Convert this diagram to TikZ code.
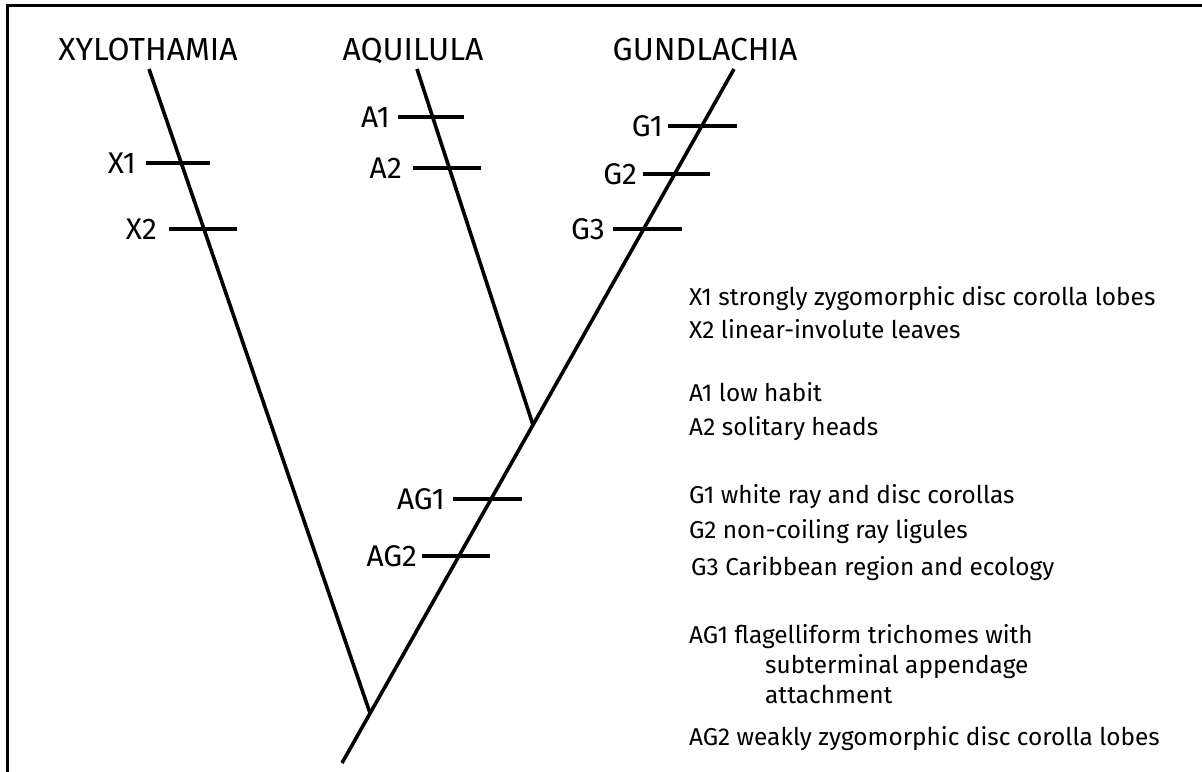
\documentclass[tikz,border=0pt]{standalone}
\usepackage{fontspec}
\setmainfont{Fira Sans}
\begin{document}
\begin{tikzpicture}[x=1bp,y=-1bp,
  branch/.style={line width=3.6bp},
  bar/.style={line width=4.2bp},
  frame/.style={line width=3bp},
  taxon/.style={font=\fontsize{32}{36}\selectfont, anchor=base, inner sep=0pt},
  lab/.style={font=\fontsize{30}{34}\selectfont, anchor=east, inner sep=1bp},
  legend/.style={font=\fontsize{24.5}{28}\selectfont, anchor=base west, inner sep=0pt}]
\useasboundingbox (0,0) rectangle (1202,772);
\fill[white] (0,0) rectangle (1202,772);
% frame
\coordinate (f1) at (1202,6);
\coordinate (f2) at (7,6);
\coordinate (f3) at (7,772);
\draw[frame] (f1) -- (f2) -- (f3);
% taxa
\node[taxon] (tX) at (148,61) {XYLOTHAMIA};
\node[taxon] (tA) at (413,61) {AQUILULA};
\node[taxon] (tG) at (705,61) {GUNDLACHIA};
% tree points
\coordinate (xt) at (149,69);
\coordinate (at) at (417,69);
\coordinate (gt) at (734,69);
\coordinate (agj) at (533,425);
\coordinate (root) at (370,713);
\coordinate (base) at (342,763);
\draw[branch] (xt) -- (root);
\draw[branch] (at) -- (agj);
\draw[branch] (base) -- (gt);
% bars
\coordinate (x1a) at (146,163); \coordinate (x1b) at (210,163);
\coordinate (x2a) at (169,229); \coordinate (x2b) at (237,229);
\coordinate (a1a) at (398,117); \coordinate (a1b) at (464,117);
\coordinate (a2a) at (413,168); \coordinate (a2b) at (481,168);
\coordinate (g1a) at (668,126); \coordinate (g1b) at (737,126);
\coordinate (g2a) at (643,174); \coordinate (g2b) at (710,174);
\coordinate (g3a) at (613,229); \coordinate (g3b) at (682,229);
\coordinate (ag1a) at (453,499); \coordinate (ag1b) at (522,499);
\coordinate (ag2a) at (422,556); \coordinate (ag2b) at (490,556);
\foreach \b in {x1,x2,a1,a2,g1,g2,g3,ag1,ag2} {\draw[bar] (\b a) -- (\b b);}
% bar labels
\node[lab] (lx1) at ([xshift=-9bp]x1a) {X1};
\node[lab] (lx2) at ([xshift=-11bp]x2a) {X2};
\node[lab] (la1) at ([xshift=-7bp]a1a) {A1};
\node[lab] (la2) at ([xshift=-10bp]a2a) {A2};
\node[lab] (lg1) at ([xshift=-4bp]g1a) {G1};
\node[lab] (lg2) at ([xshift=-5bp]g2a) {G2};
\node[lab] (lg3) at ([xshift=-7bp]g3a) {G3};
\node[lab] (lag1) at ([xshift=-7bp]ag1a) {AG1};
\node[lab] (lag2) at ([xshift=-4bp]ag2a) {AG2};
% legend
\node[legend] (d1) at (689,305) {X1 strongly zygomorphic disc corolla lobes};
\node[legend] (d2) at (689,338) {X2 linear-involute leaves};
\node[legend] (d3) at (689,401) {A1 low habit};
\node[legend] (d4) at (689,435) {A2 solitary heads};
\node[legend] (d5) at (689,503) {G1 white ray and disc corollas};
\node[legend] (d6) at (689,538) {G2 non-coiling ray ligules};
\node[legend] (d7) at (691,575) {G3 Caribbean region and ecology};
\node[legend] (d8) at (689,643) {AG1 flagelliform trichomes with};
\node[legend] (d9) at (765,673) {subterminal appendage};
\node[legend] (d10) at (765,703) {attachment};
\node[legend] (d11) at (689,745) {AG2 weakly zygomorphic disc corolla lobes};
\end{tikzpicture}
\end{document}
